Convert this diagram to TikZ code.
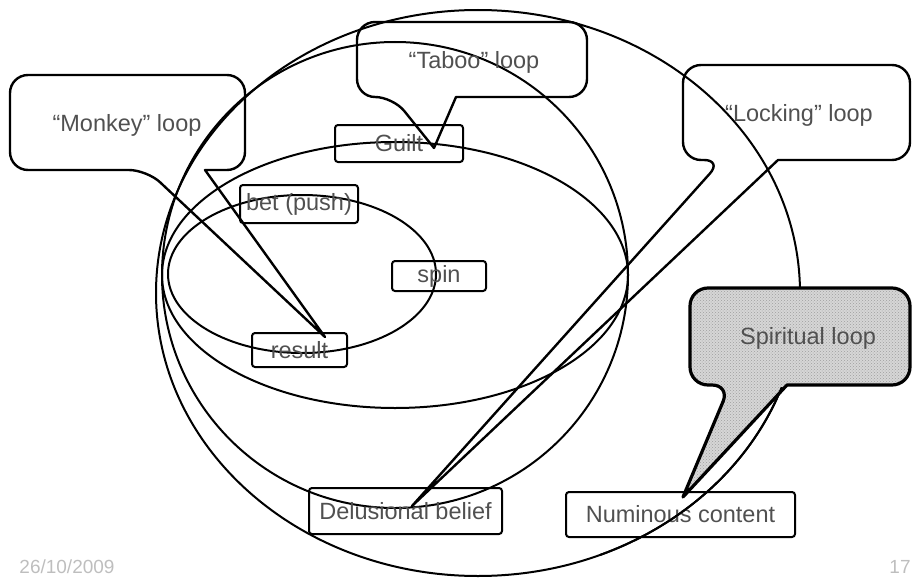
\documentclass[tikz,border=0pt]{standalone}
\usepackage{fontspec}
\setmainfont{Liberation Sans}
\usetikzlibrary{patterns}
\definecolor{txtgray}{RGB}{80,80,80}
\definecolor{dategray}{RGB}{190,190,190}
\begin{document}
\begin{tikzpicture}[x=1pt,y=-1pt,
  loopline/.style={line width=2pt},
  box/.style={draw, line width=2pt, rounded corners=3pt, inner sep=0pt, text=txtgray, font=\fontsize{23.5}{28}\selectfont},
  callout/.style={draw, line width=2.4pt, line join=round},
  ctext/.style={text=txtgray, font=\fontsize{23.5}{28}\selectfont, inner sep=0pt},
  datetext/.style={text=dategray, font=\fontsize{19}{22}\selectfont, inner sep=0pt}]
\useasboundingbox (0,0) rectangle (913,578);

% loops
\draw[loopline] (478,293) ellipse [x radius=322, y radius=283];
\draw[loopline] (395,275) ellipse [x radius=233, y radius=233];
\draw[loopline] (395,275) ellipse [x radius=233, y radius=133];
\draw[loopline] (302,274) ellipse [x radius=134, y radius=79];

% boxes
\node[box, minimum width=128pt, minimum height=37pt] (guilt) at (399,143.5) {Guilt};
\node[box, minimum width=118pt, minimum height=38pt] (bet) at (299,204) {bet (push)};
\node[box, minimum width=94pt, minimum height=30pt] (spin) at (439,276) {spin};
\node[box, minimum width=95pt, minimum height=34pt] (result) at (299.5,350) {result};
\node[box, minimum width=193pt, minimum height=46pt] (delus) at (405.5,511) {Delusional belief};
\node[box, minimum width=229pt, minimum height=45pt] (numin) at (680.5,514.5) {Numinous content};

% callout tips
\coordinate (mtip) at (325,337);
\coordinate (ttip) at (434,148);
\coordinate (ltip) at (412,506);
\coordinate (stip) at (683,497);

% Monkey loop
\draw[callout, rounded corners=18pt] (205,170) -- (245,170) -- (245,75) -- (10,75) -- (10,170) -- (147,170) [sharp corners] -- (mtip) -- cycle;
\node[ctext] (monkey) at (127,125) {“Monkey” loop};

% Taboo loop
\draw[callout, rounded corners=18pt] (456,97) -- (587,97) -- (587,22) -- (357,22) -- (357,97) -- (393,97) [sharp corners] -- (ttip) -- cycle;
\node[ctext] (taboo) at (474,62) {“Taboo” loop};

% Locking loop
\draw[callout, rounded corners=18pt] (778,160) -- (910,160) -- (910,65) -- (683,65) -- (683,160) -- (722,160) [sharp corners] -- (ltip) -- cycle;
\node[ctext] (locking) at (799,115) {“Locking” loop};

% Spiritual loop
\draw[callout, line width=3.2pt, rounded corners=18pt, preaction={fill=gray!32}, pattern=crosshatch dots, pattern color=gray!75] (787,385) -- (910,385) -- (910,288) -- (690,288) -- (690,385) -- (730,385) [sharp corners] -- (stip) -- cycle;
\begin{scope}
\clip (600,387) rectangle (913,578);
\draw[loopline] (478,293) ellipse [x radius=322, y radius=283];
\end{scope}
\node[ctext] (spiritual) at (808,338) {Spiritual loop};

% footer
\node[datetext] (date) at (67,567) {26/10/2009};
\node[datetext] (page) at (900,567) {17};
\end{tikzpicture}
\end{document}
